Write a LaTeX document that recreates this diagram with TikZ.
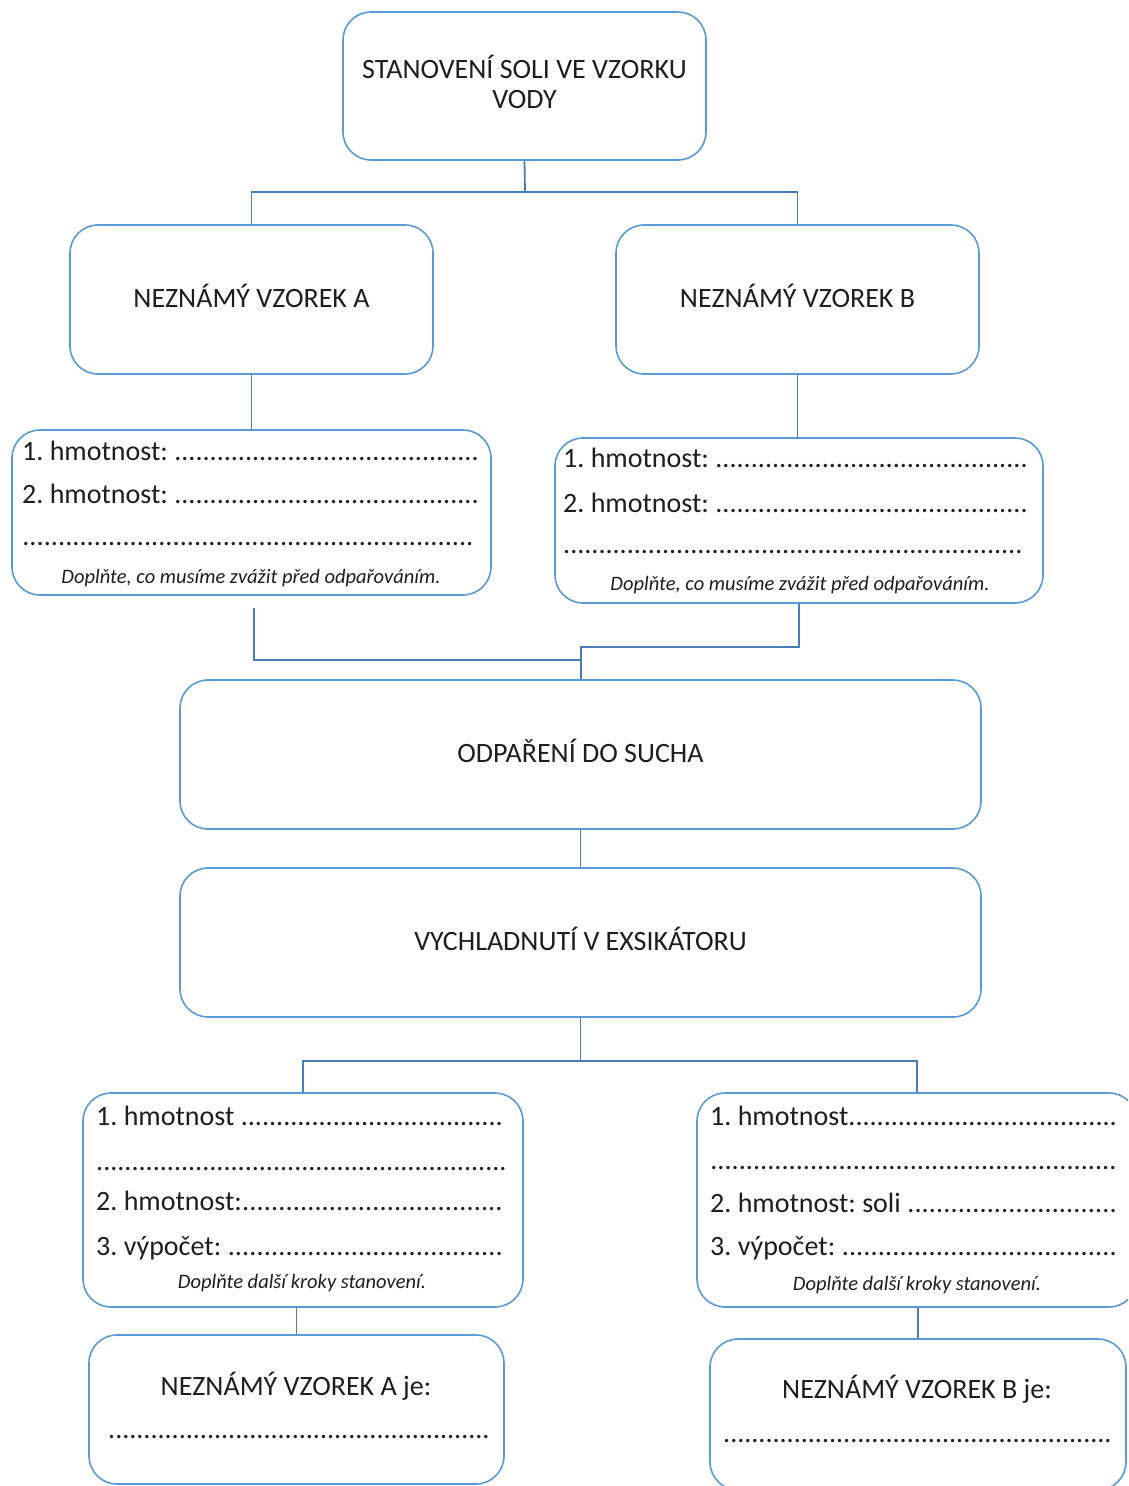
\documentclass[tikz,border=0pt]{standalone}
\usepackage{fontspec}
\setmainfont{Carlito}
\frenchspacing
\definecolor{boxblue}{RGB}{91,155,213}
\definecolor{linkblue}{RGB}{74,126,187}
\definecolor{ink}{RGB}{30,30,30}
\newcommand\dotrow[2]{\hbox to #1{#2\xleaders\hbox{.}\hfill}}
\newcommand\bigfont{\fontsize{28}{30}\selectfont\frenchspacing}
\newcommand\notefont{\fontsize{20.5}{24}\selectfont\itshape\frenchspacing}
\tikzset{
 box/.style={draw=boxblue, line width=1.6pt, rounded corners=28pt, fill=white, inner sep=0pt, font=\bigfont, text=ink, align=center},
 oneline/.style={text height=22pt, text depth=6pt},
 link/.style={draw=linkblue, line width=1.8pt},
 txt/.style={anchor=base west, inner sep=0pt, font=\bigfont, text=ink},
 ctxt/.style={anchor=base, inner sep=0pt, font=\bigfont, text=ink},
 note/.style={anchor=base, inner sep=0pt, font=\notefont, text=ink},
}
\begin{document}
\begin{tikzpicture}[x=1pt,y=-1pt]
\useasboundingbox (0,0) rectangle (1128,1486);
\clip (0,0) rectangle (1128,1486);
% boxes
\node[box, minimum width=363pt, minimum height=148pt, text height=50pt, text depth=6pt] (top) at (524.5,86) {STANOVENÍ SOLI VE VZORKU\\VODY};
\node[box, oneline, minimum width=363pt, minimum height=149pt] (A) at (251.5,299.5) {NEZNÁMÝ VZOREK A};
\node[box, oneline, minimum width=363pt, minimum height=149pt] (B) at (797.5,299.5) {NEZNÁMÝ VZOREK B};
\node[box, minimum width=479pt, minimum height=165pt] (A1) at (251.5,512.5) {};
\node[box, minimum width=488pt, minimum height=165pt] (B1) at (799,520.5) {};
\node[box, oneline, minimum width=801pt, minimum height=149pt] (odp) at (580.5,754.5) {ODPAŘENÍ DO SUCHA};
\node[box, oneline, minimum width=801pt, minimum height=149pt] (vych) at (580.5,942.5) {VYCHLADNUTÍ V EXSIKÁTORU};
\node[box, minimum width=440pt, minimum height=214pt] (A2) at (303,1200) {};
\node[box, minimum width=440pt, minimum height=214pt] (B2) at (917,1200) {};
\node[box, minimum width=415pt, minimum height=149pt] (A3) at (296.5,1409.5) {};
\node[box, minimum width=416pt, minimum height=151pt] (B3) at (918,1414.5) {};
% connectors
\coordinate (j1) at (525,192);
\draw[link] (top.south) -- (j1);
\draw[link] (A.north) |- (j1) -| (B.north);
\draw[link] (A.south) -- (A.south |- A1.north);
\draw[link] (B.south) -- (B.south |- B1.north);
\coordinate (aStart) at (254,608);
\coordinate (jA) at (581,660);
\coordinate (jB) at (581,647);
\draw[link] (aStart) |- (jA);
\draw[link] (B1.south) |- (jB) -- (jB |- odp.north);
\draw[link] (odp.south) -- (vych.north);
\coordinate (j2) at (580.5,1061);
\draw[link] (vych.south) -- (j2);
\draw[link] (A2.north) |- (j2) -| (B2.north);
\draw[link] (A3.north) -- (A3.north |- A2.south);
\draw[link] (B3.north) -- (B3.north |- B2.south);
% A1 texts
\node[txt] (a1l1) at (22,460) {\dotrow{457pt}{1. hmotnost: }};
\node[txt] (a1l2) at (22,503) {\dotrow{457pt}{2. hmotnost: }};
\node[txt] (a1l3) at (22,545) {\dotrow{452pt}{}};
\node[note] (a1n) at (251,583) {Doplňte, co musíme zvážit před odpařováním.};
% B1 texts
\node[txt] (b1l1) at (563,467) {\dotrow{465pt}{1. hmotnost: }};
\node[txt] (b1l2) at (563,512) {\dotrow{465pt}{2. hmotnost: }};
\node[txt] (b1l3) at (563,553) {\dotrow{460pt}{}};
\node[note] (b1n) at (800,590) {Doplňte, co musíme zvážit před odpařováním.};
% A2 texts
\node[txt] (a2l1) at (96,1125) {\dotrow{407pt}{1. hmotnost }};
\node[txt] (a2l2) at (96,1170) {\dotrow{411pt}{}};
\node[txt] (a2l3) at (96,1210) {\dotrow{407pt}{2. hmotnost:}};
\node[txt] (a2l4) at (96,1255) {\dotrow{407pt}{3. výpočet: }};
\node[note] (a2n) at (302,1288) {Doplňte další kroky stanovení.};
% B2 texts
\node[txt] (b2l1) at (710,1125) {\dotrow{407pt}{1. hmotnost}};
\node[txt] (b2l2) at (710,1169) {\dotrow{407pt}{}};
\node[txt] (b2l3) at (710,1212) {\dotrow{407pt}{2. hmotnost: soli }};
\node[txt] (b2l4) at (710,1255) {\dotrow{407pt}{3. výpočet: }};
\node[note] (b2n) at (917,1290) {Doplňte další kroky stanovení.};
% A3 / B3 texts
\node[ctxt] (a3t) at (296,1395) {NEZNÁMÝ VZOREK A je:};
\node[txt] (a3d) at (108,1438) {\dotrow{382pt}{}};
\node[ctxt] (b3t) at (917,1398) {NEZNÁMÝ VZOREK B je:};
\node[txt] (b3d) at (723,1442) {\dotrow{389pt}{}};
\end{tikzpicture}
\end{document}
